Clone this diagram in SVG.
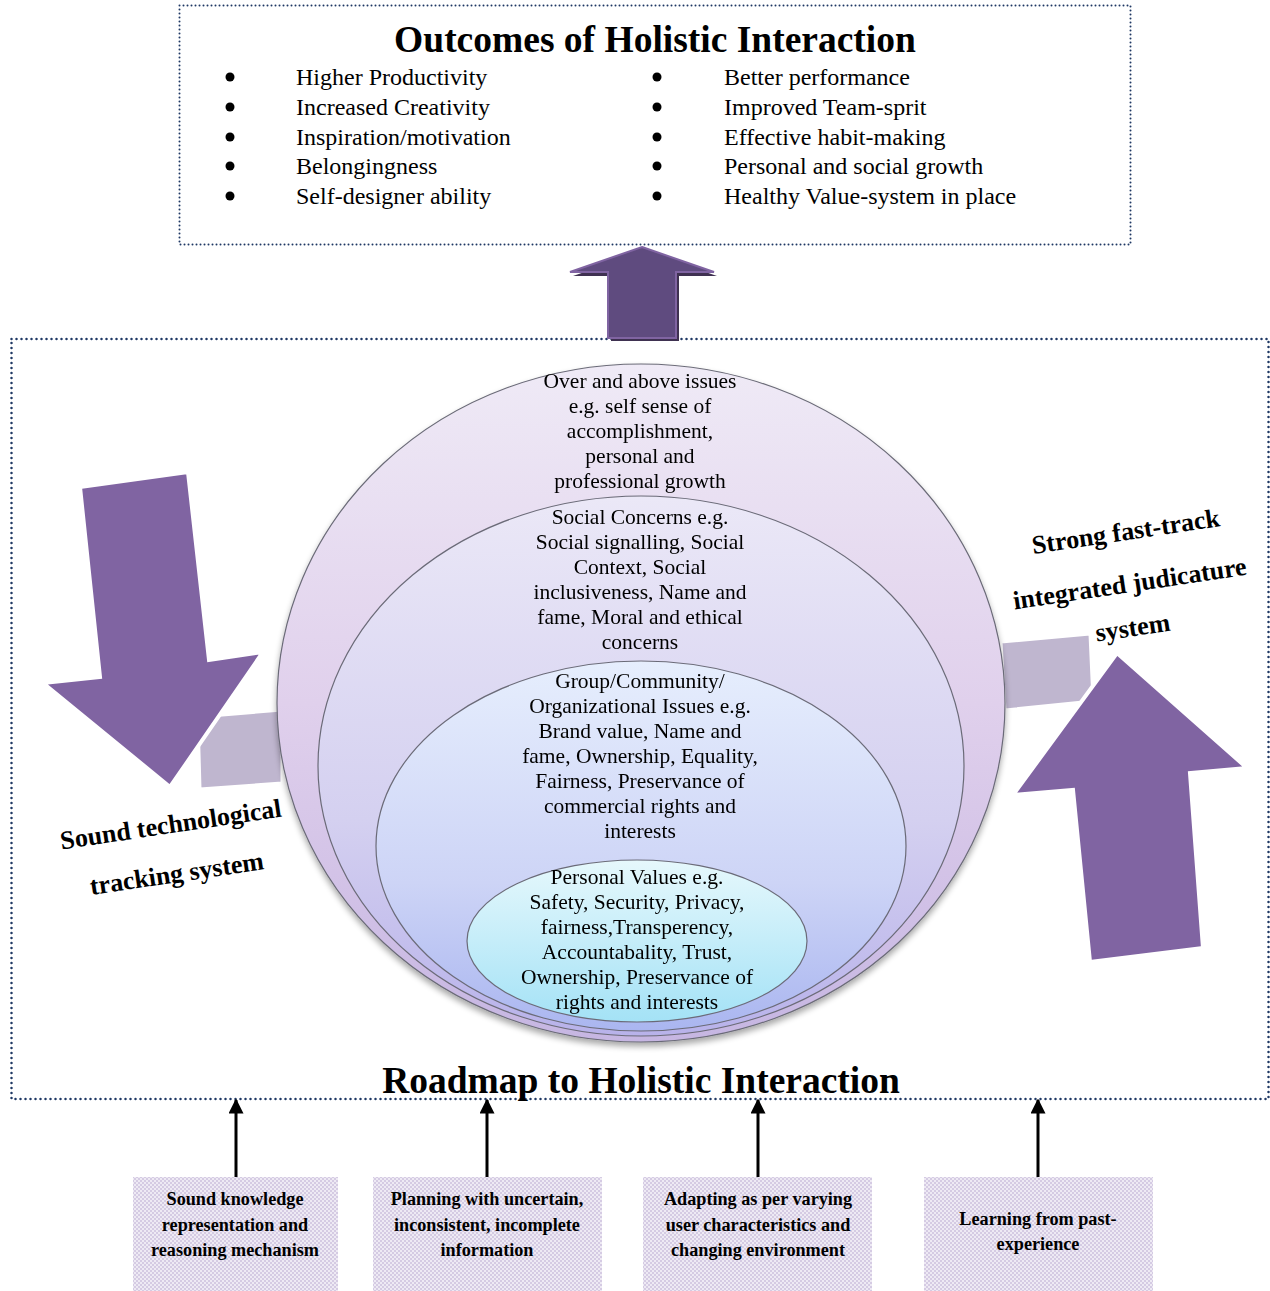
<svg xmlns="http://www.w3.org/2000/svg" width="1270" height="1291" viewBox="0 0 1270 1291">
<defs>
<style>
.serif{font-family:"Liberation Serif","Times New Roman",serif;fill:#000}
.bul{font-size:24px}
.ring{font-size:21.5px;text-anchor:middle}
.lab{font-size:26px;font-weight:bold;text-anchor:middle}
.box{font-size:18.2px;font-weight:bold;text-anchor:middle}
.title{font-size:37.5px;font-weight:bold;text-anchor:middle}
.dots{fill:none;stroke:#1f3864;stroke-width:2.5;stroke-dasharray:0 5;stroke-linecap:round}
.bigarrow{fill:#8064a2;stroke:#fff;stroke-width:4;stroke-linejoin:miter}
.bar{fill:#bfb6cf;stroke:#fff;stroke-width:3}
.conn{stroke:#000;stroke-width:3;fill:none}
.ell{stroke:#6b6b78;stroke-width:1.2}
</style>
<pattern id="chk" width="4" height="4" patternUnits="userSpaceOnUse">
<rect width="4" height="4" fill="#eeeaf4"/>
<rect width="2" height="2" fill="#d5cbe3"/>
<rect x="2" y="2" width="2" height="2" fill="#d5cbe3"/>
</pattern>
<linearGradient id="g1" x1="0" y1="0" x2="0" y2="1">
<stop offset="0" stop-color="#efeaf6"/>
<stop offset="0.5" stop-color="#e0d0ec"/>
<stop offset="1" stop-color="#c6b6e2"/>
</linearGradient>
<linearGradient id="g2" x1="0" y1="0" x2="0" y2="1">
<stop offset="0" stop-color="#ebe8f7"/>
<stop offset="0.6" stop-color="#d4d0f0"/>
<stop offset="1" stop-color="#b8b2ea"/>
</linearGradient>
<linearGradient id="g3" x1="0" y1="0" x2="0" y2="1">
<stop offset="0" stop-color="#e6eefd"/>
<stop offset="0.6" stop-color="#cdd4f6"/>
<stop offset="1" stop-color="#aab6f0"/>
</linearGradient>
<linearGradient id="g4" x1="0" y1="0" x2="0" y2="1">
<stop offset="0" stop-color="#e6f8fc"/>
<stop offset="1" stop-color="#a4e2f6"/>
</linearGradient>
<filter id="sh" x="-10%" y="-10%" width="120%" height="125%">
<feGaussianBlur in="SourceAlpha" stdDeviation="3"/>
<feOffset dx="0" dy="4"/>
<feComponentTransfer><feFuncA type="linear" slope="0.35"/></feComponentTransfer>
<feMerge><feMergeNode/><feMergeNode in="SourceGraphic"/></feMerge>
</filter>
<marker id="ah" viewBox="0 0 10 10" refX="9" refY="5" markerWidth="5" markerHeight="5" orient="auto">
<path d="M0,0 L10,5 L0,10 z" fill="#000"/>
</marker>
</defs>

<rect width="1270" height="1291" fill="#fff"/>

<g id="outcomes">
<rect x="179.5" y="5.5" width="951" height="239" fill="#fff" class="dots" style="stroke-width:2;stroke-dasharray:0 4"/>
<text class="serif title" x="655" y="52">Outcomes of Holistic Interaction</text>
<g fill="#000">
<circle cx="230" cy="77" r="4.5"/><circle cx="230" cy="107" r="4.5"/><circle cx="230" cy="137" r="4.5"/><circle cx="230" cy="166" r="4.5"/><circle cx="230" cy="196" r="4.5"/>
<circle cx="657" cy="77" r="4.5"/><circle cx="657" cy="107" r="4.5"/><circle cx="657" cy="137" r="4.5"/><circle cx="657" cy="166" r="4.5"/><circle cx="657" cy="196" r="4.5"/>
</g>
<g class="serif bul">
<text x="296" y="85">Higher Productivity</text>
<text x="296" y="115">Increased Creativity</text>
<text x="296" y="145">Inspiration/motivation</text>
<text x="296" y="174">Belongingness</text>
<text x="296" y="204">Self-designer ability</text>
<text x="724" y="85">Better performance</text>
<text x="724" y="115">Improved Team-sprit</text>
<text x="724" y="145">Effective habit-making</text>
<text x="724" y="174">Personal and social growth</text>
<text x="724" y="204">Healthy Value-system in place</text>
</g>
</g>

<g id="roadmap">
<rect x="11.5" y="339" width="1257" height="760" fill="url(#chk)" class="dots"/>
<text class="serif title" x="641" y="1093">Roadmap to Holistic Interaction</text>
</g>

<g id="up-arrow">
<polygon points="645,251 717,276 679,276 679,341 611,341 611,276 573,276" fill="#3f3151"/>
<polygon points="642,247 714,272 676,272 676,338 608,338 608,272 570,272" fill="#5f4b7f" stroke="#8064a2" stroke-width="2"/>
</g>

<g id="left-bar"><polygon class="bar" points="198,717 282,710 282,783 200,789"/></g>
<g id="right-bar"><polygon class="bar" points="1001,642 1090,634 1093,701 1005,710"/></g>

<g id="rings" filter="url(#sh)">
<g id="ring-outer">
<ellipse class="ell" cx="641" cy="703" rx="364" ry="339" fill="url(#g1)"/>
<text class="serif ring" x="640" y="388">Over and above issues</text>
<text class="serif ring" x="640" y="413">e.g. self sense of</text>
<text class="serif ring" x="640" y="438">accomplishment,</text>
<text class="serif ring" x="640" y="463">personal and</text>
<text class="serif ring" x="640" y="488">professional growth</text>
</g>
<g id="ring-social">
<ellipse class="ell" cx="641" cy="766" rx="323" ry="270" fill="url(#g2)"/>
<text class="serif ring" x="640" y="524">Social Concerns e.g.</text>
<text class="serif ring" x="640" y="549">Social signalling, Social</text>
<text class="serif ring" x="640" y="574">Context, Social</text>
<text class="serif ring" x="640" y="599">inclusiveness, Name and</text>
<text class="serif ring" x="640" y="624">fame, Moral and ethical</text>
<text class="serif ring" x="640" y="649">concerns</text>
</g>
<g id="ring-group">
<ellipse class="ell" cx="641" cy="846" rx="265" ry="185" fill="url(#g3)"/>
<text class="serif ring" x="640" y="688">Group/Community/</text>
<text class="serif ring" x="640" y="713">Organizational Issues e.g.</text>
<text class="serif ring" x="640" y="738">Brand value, Name and</text>
<text class="serif ring" x="640" y="763">fame, Ownership, Equality,</text>
<text class="serif ring" x="640" y="788">Fairness, Preservance of</text>
<text class="serif ring" x="640" y="813">commercial rights and</text>
<text class="serif ring" x="640" y="838">interests</text>
</g>
<g id="ring-personal">
<ellipse class="ell" cx="637" cy="941" rx="170" ry="81" fill="url(#g4)"/>
<text class="serif ring" x="637" y="884">Personal Values e.g.</text>
<text class="serif ring" x="637" y="909">Safety, Security, Privacy,</text>
<text class="serif ring" x="637" y="934">fairness,Transperency,</text>
<text class="serif ring" x="637" y="959">Accountabality, Trust,</text>
<text class="serif ring" x="637" y="984">Ownership, Preservance of</text>
<text class="serif ring" x="637" y="1009">rights and interests</text>
</g>
</g>

<g id="down-arrow-left">
<polygon class="bigarrow" points="80,487 188,472 209,660 263,652 170,787 43,683 100,677"/>
<text class="serif lab" transform="translate(172,833) rotate(-8.5)">Sound technological</text>
<text class="serif lab" transform="translate(178,882) rotate(-8.5)">tracking system</text>
</g>

<g id="up-arrow-right">
<polygon class="bigarrow" points="1117,653 1247,768 1190,773 1203,948 1090,962 1073,790 1013,795"/>
<text class="serif lab" transform="translate(1127,540) rotate(-8.5)">Strong fast-track</text>
<text class="serif lab" transform="translate(1131,592) rotate(-8.5)">integrated judicature</text>
<text class="serif lab" transform="translate(1134,636) rotate(-8.5)">system</text>
</g>

<g id="connectors">
<line class="conn" x1="236" y1="1177" x2="236" y2="1100" marker-end="url(#ah)"/>
<line class="conn" x1="487" y1="1177" x2="487" y2="1100" marker-end="url(#ah)"/>
<line class="conn" x1="758" y1="1177" x2="758" y2="1100" marker-end="url(#ah)"/>
<line class="conn" x1="1038" y1="1177" x2="1038" y2="1100" marker-end="url(#ah)"/>
</g>

<g id="box1">
<rect x="133" y="1177" width="205" height="114" fill="url(#chk)"/>
<text class="serif box" x="235" y="1205">Sound knowledge</text>
<text class="serif box" x="235" y="1231">representation and</text>
<text class="serif box" x="235" y="1256">reasoning mechanism</text>
</g>
<g id="box2">
<rect x="373" y="1177" width="229" height="114" fill="url(#chk)"/>
<text class="serif box" x="487" y="1205">Planning with uncertain,</text>
<text class="serif box" x="487" y="1231">inconsistent, incomplete</text>
<text class="serif box" x="487" y="1256">information</text>
</g>
<g id="box3">
<rect x="643" y="1177" width="229" height="114" fill="url(#chk)"/>
<text class="serif box" x="758" y="1205">Adapting as per varying</text>
<text class="serif box" x="758" y="1231">user characteristics and</text>
<text class="serif box" x="758" y="1256">changing environment</text>
</g>
<g id="box4">
<rect x="924" y="1177" width="229" height="114" fill="url(#chk)"/>
<text class="serif box" x="1038" y="1225">Learning from past-</text>
<text class="serif box" x="1038" y="1250">experience</text>
</g>
</svg>
